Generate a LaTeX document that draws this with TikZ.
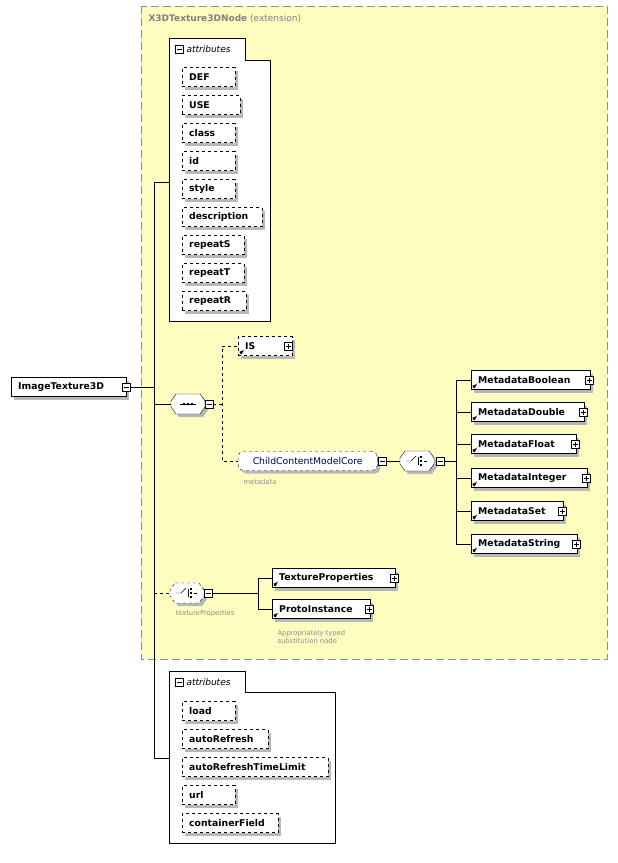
\documentclass[tikz,border=0pt]{standalone}
\usepackage{fontspec}
\setmainfont{DejaVu Sans}
\usetikzlibrary{shadows,positioning,calc}
\tikzset{
  shd/.style={drop shadow={shadow xshift=3pt,shadow yshift=-3pt,fill=black!28,opacity=1}},
  elem/.style={draw,fill=white,shd,minimum height=19pt,inner xsep=3pt,inner ysep=2pt,anchor=west,text width=#1,font=\bfseries\fontsize{9.3}{10}\selectfont,align=left,execute at begin node=\hspace{4pt}},
  opt/.style={elem=#1,dashed},
  grp/.style={draw,dashed,fill=white,shd,rounded corners=5pt,minimum height=19pt,inner sep=3pt,anchor=west,font=\fontsize{9.3}{10}\selectfont,text=blue!30!black},
  pm/.style={draw,fill=white,minimum size=8pt,inner sep=0pt},
  note/.style={anchor=west,text=black!45,font=\fontsize{6.8}{7.8}\selectfont,align=left},
  attr/.style={draw,fill=white,line width=0.8pt},
  dsh/.style={dashed}
}
\newcommand{\tgl}[3]{% name, position, sign
  \node[pm] (#1) at (#2) {};
  \draw ([xshift=-2.5pt]#1.center) -- ([xshift=2.5pt]#1.center);
  \ifx#3+\draw ([yshift=-2.5pt]#1.center) -- ([yshift=2.5pt]#1.center);\fi}
\newcommand{\octa}[3]{% style, x, y
  \fill[black!28] (#2-9,#3-7) -- ++(24,0) -- ++(5,7) -- ++(0,6) -- ++(-5,7) -- ++(-24,0) -- ++(-5,-7) -- ++(0,-6) -- cycle;
  \draw[fill=white,#1] (#2-12,#3-10) -- ++(24,0) -- ++(5,7) -- ++(0,6) -- ++(-5,7) -- ++(-24,0) -- ++(-5,-7) -- ++(0,-6) -- cycle;}
\newcommand{\refmark}[1]{\draw[-latex,line width=0.7pt] ([xshift=2pt,yshift=2pt]#1.south west) -- ++(4,-4);}
\newcommand{\att}[4]{\node[opt=#3pt] (#1) at (182,#2) {#4};}
\begin{document}
\begin{tikzpicture}[x=1pt,y=-1pt]
\useasboundingbox (0,0) rectangle (618,863);
% extension box
\draw[dashed,dash pattern=on 8pt off 4pt,draw=black!45,fill=yellow!25] (141,6) rectangle (607,659);
\node[anchor=west,text=black!50,font=\fontsize{9}{10}\selectfont] (ext) at (145,19) {\textbf{X3DTexture3DNode} (extension)};
% first attributes
\draw[attr] (169,38) -- (245,38) -- (245,60) -- (270,60) -- (270,321) -- (169,321) -- cycle;
\tgl{ta}{179,49}{-}
\node[anchor=west,font=\itshape\fontsize{9}{10}\selectfont] at (183,49) {attributes};
\att{def}{77}{47}{DEF}
\att{use}{105}{52}{USE}
\att{cls}{133}{47}{class}
\att{id}{161}{47}{id}
\att{sty}{189}{47}{style}
\att{dsc}{217}{74}{description}
\att{rs}{245}{56}{repeatS}
\att{rt}{273}{56}{repeatT}
\att{rr}{301}{58}{repeatR}
% root
\node[elem=109pt] (root) at (11,387) {ImageTexture3D};
\tgl{tr}{126.5,387}{-}
\draw (tr.east) -- (154,387);
\draw (154,182) -- (169,182);
\draw (154,182) -- (154,758) -- (169,758);
% sequence
\octa{}{188}{404}
\coordinate (seq) at (171,404);
\draw (180,404) -- (196,404);
\foreach \d in {184,188,192} \fill (\d,404) circle (1.3pt);
\tgl{ts}{209,404}{-}
\draw (154,404) -- (seq);
\draw[dsh] (ts.east) -- (222,404);
\draw[dsh] (237,346) -- (222,346) -- (222,461) -- (238,461);
\node[opt=48pt] (is) at (238,346) {IS};
\refmark{is}
\tgl{ti}{288,346}{+}
\node[grp,minimum width=139pt] (ccm) at (238,461) {ChildContentModelCore\hspace{5pt}};
\tgl{tc}{382,461}{-}
\node[note] at (240,482) {metadata};
% choice metadata
\octa{}{417}{461}
\coordinate (ch) at (400,461);
\draw (406,461) -- (411,461) -- (416,456);
\foreach \d in {457,461,465} \fill (420,\d-1) rectangle ++(2.4,2);
\draw (418,457) -- (418,465);
\draw (424,461) -- (427,461);
\tgl{tch}{440,461}{-}
\draw (tc.east) -- (ch);
\draw (tch.east) -- (456,461);
\draw (456,380) -- (456,544);
\foreach \n/\y/\w/\t in {mb/380/113/MetadataBoolean,md/412/107/MetadataDouble,mf/444/99/MetadataFloat,mi/478/110/MetadataInteger,ms/511/86/MetadataSet,mst/544/100/MetadataString}{
  \draw (456,\y) -- (471,\y);
  \node[elem=\w pt] (\n) at (471,\y) {\t};
  \refmark{\n}
  \tgl{t\n}{$(\n.east)+(-1,0)$}{+}
}
% choice texture properties
\octa{dashed}{187}{593}
\coordinate (ch2) at (170,593);
\draw (176,593) -- (181,593) -- (186,588);
\foreach \d in {589,593,597} \fill (190,\d-1) rectangle ++(2.4,2);
\draw (188,589) -- (188,597);
\draw (194,593) -- (197,593);
\tgl{tch2}{208,593}{-}
\draw[dsh] (154,593) -- (ch2);
\node[note] at (172,614) {textureProperties};
\draw (tch2.east) -- (258,593);
\draw (272,578) -- (258,578) -- (258,609) -- (272,609);
\node[elem=117pt] (tp) at (272,578) {TextureProperties};
\refmark{tp}
\tgl{ttp}{$(tp.east)+(-1,0)$}{+}
\node[elem=92pt] (pi) at (272,609) {ProtoInstance};
\refmark{pi}
\tgl{tpi}{$(pi.east)+(-1,0)$}{+}
\node[note] at (274,637) {Appropriately typed\\substitution node};
% second attributes
\draw[attr] (169,671) -- (245,671) -- (245,692) -- (335,692) -- (335,843) -- (169,843) -- cycle;
\tgl{ta2}{179,682}{-}
\node[anchor=west,font=\itshape\fontsize{9}{10}\selectfont] at (183,682) {attributes};
\att{load}{711}{47}{load}
\att{ar}{739}{80}{autoRefresh}
\att{art}{767}{140}{autoRefreshTimeLimit}
\att{url}{795}{47}{url}
\att{cf}{823}{90}{containerField}
\end{tikzpicture}
\end{document}
